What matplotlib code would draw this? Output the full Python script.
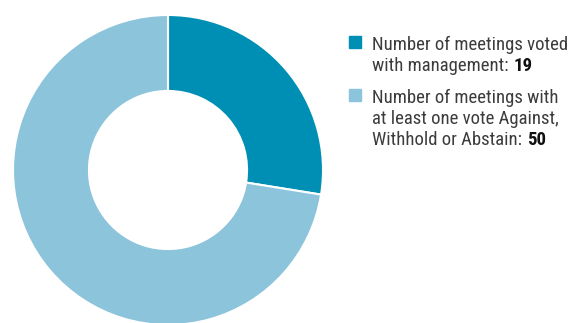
import matplotlib
matplotlib.use("Agg")
import matplotlib.pyplot as plt

labels = ["Number of meetings voted\nwith management: ",
          "Number of meetings with\nat least one vote Against,\nWithhold or Abstain: "]
values = [19, 50]
colors = ["#008fb4", "#8bc4db"]

family = ["Roboto Condensed", "Liberation Sans", "DejaVu Sans"]

W, H = 569, 323
fig = plt.figure(figsize=(W / 100, H / 100), dpi=100)

# donut
cx, cy, r = 168, 170, 155
ax = fig.add_axes([(cx - r) / W, (H - cy - r) / H, 2 * r / W, 2 * r / H])
ax.pie(values, colors=colors, startangle=90, counterclock=False,
       wedgeprops=dict(width=0.49, edgecolor="white", linewidth=1.5))
ax.set_aspect("equal")
ax.set_xlim(-1, 1)
ax.set_ylim(-1, 1)

# legend, drawn by hand so the numbers can be bold
renderer = fig.canvas.get_renderer()
tops = [35, 88]
for lab, val, col, top in zip(labels, values, colors, tops):
    fig.patches.append(plt.Rectangle((349 / W, 1 - (top + 13) / H), 12 / W, 12 / H,
                                     transform=fig.transFigure, color=col))
    lines = lab.split("\n")
    for i, line in enumerate(lines):
        y = 1 - (top + 15 + i * 21) / H
        t = fig.text(372 / W, y, line, fontsize=13.5, family=family,
                     color="#3c3c3c", va="baseline", ha="left")
        if i == len(lines) - 1:
            bb = t.get_window_extent(renderer)
            fig.text((bb.x1 + 1) / W, y, str(val), fontsize=13.5, family=family,
                     weight="bold", color="#111111", va="baseline", ha="left")

fig.savefig("out.png", dpi=100)
